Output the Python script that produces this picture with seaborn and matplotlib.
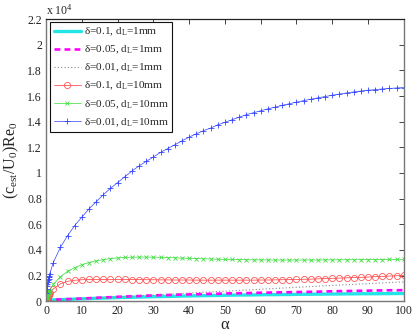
import numpy as np
import pandas as pd
import matplotlib
matplotlib.use("Agg")
import matplotlib.pyplot as plt
import seaborn as sns
from matplotlib.ticker import FuncFormatter

# ---- data (y in units of 1e4) ----
alpha = [0, 0.1, 0.2, 0.3, 0.4, 0.5, 0.6, 0.7, 0.8, 0.9, 1.0,
         2, 4, 6, 8, 10, 12, 14, 16, 18, 20, 22, 24, 26, 28, 30, 32, 34, 36, 38, 40,
         42, 44, 46, 48, 50, 52, 54, 56, 58, 60, 62, 64, 66, 68, 70, 72, 74, 76, 78, 80,
         82, 84, 86, 88, 90, 92, 94, 96, 98, 100]

cyan_1mm = [0, 0.002, 0.003, 0.004, 0.005, 0.006, 0.006, 0.007, 0.007, 0.008, 0.008,
            0.010, 0.012, 0.014, 0.016, 0.018, 0.020, 0.022, 0.024, 0.026, 0.028, 0.029, 0.030, 0.032, 0.033, 0.035, 0.036, 0.037, 0.038, 0.040, 0.041,
            0.042, 0.043, 0.044, 0.045, 0.046, 0.047, 0.048, 0.048, 0.049, 0.050, 0.051, 0.051, 0.052, 0.052, 0.053, 0.054, 0.054, 0.055, 0.055, 0.056,
            0.056, 0.057, 0.057, 0.058, 0.058, 0.058, 0.059, 0.059, 0.060, 0.060]

magenta_1mm = [0, 0.002, 0.003, 0.004, 0.005, 0.006, 0.007, 0.007, 0.008, 0.008, 0.009,
               0.011, 0.013, 0.015, 0.018, 0.020, 0.023, 0.026, 0.029, 0.031, 0.034, 0.036, 0.038, 0.040, 0.043, 0.045, 0.047, 0.048, 0.050, 0.052, 0.053,
               0.054, 0.056, 0.057, 0.058, 0.060, 0.061, 0.062, 0.063, 0.064, 0.066, 0.067, 0.068, 0.069, 0.070, 0.071, 0.072, 0.073, 0.074, 0.076, 0.077,
               0.078, 0.079, 0.080, 0.081, 0.082, 0.083, 0.084, 0.085, 0.085, 0.086]

gray_1mm = [0, 0.001, 0.001, 0.001, 0.002, 0.002, 0.002, 0.002, 0.003, 0.003, 0.003,
            0.005, 0.008, 0.011, 0.015, 0.018, 0.021, 0.024, 0.027, 0.030, 0.033, 0.036, 0.039, 0.042, 0.045, 0.048, 0.051, 0.054, 0.057, 0.060, 0.063,
            0.066, 0.069, 0.072, 0.075, 0.078, 0.081, 0.084, 0.087, 0.090, 0.093, 0.096, 0.099, 0.102, 0.105, 0.108, 0.111, 0.114, 0.117, 0.120, 0.123,
            0.126, 0.128, 0.131, 0.134, 0.137, 0.140, 0.142, 0.145, 0.148, 0.150]

red_10mm = [0, 0.010, 0.018, 0.025, 0.031, 0.036, 0.041, 0.046, 0.050, 0.055, 0.060,
            0.095, 0.135, 0.155, 0.163, 0.167, 0.169, 0.170, 0.170, 0.170, 0.169, 0.169, 0.168, 0.168, 0.167, 0.167, 0.166, 0.166, 0.165, 0.165, 0.165,
            0.164, 0.164, 0.164, 0.164, 0.164, 0.164, 0.164, 0.164, 0.164, 0.165, 0.165, 0.166, 0.167, 0.168, 0.169, 0.171, 0.172, 0.174, 0.176, 0.178,
            0.180, 0.182, 0.184, 0.186, 0.188, 0.191, 0.193, 0.196, 0.198, 0.201]

green_10mm = [0, 0.015, 0.025, 0.035, 0.042, 0.050, 0.057, 0.063, 0.070, 0.076, 0.082,
              0.130, 0.190, 0.232, 0.262, 0.284, 0.301, 0.314, 0.324, 0.332, 0.337, 0.341, 0.343, 0.344, 0.344, 0.343, 0.342, 0.340, 0.338, 0.336, 0.334,
              0.332, 0.330, 0.329, 0.327, 0.326, 0.325, 0.324, 0.323, 0.322, 0.322, 0.321, 0.321, 0.321, 0.321, 0.321, 0.321, 0.321, 0.321, 0.322, 0.322,
              0.322, 0.323, 0.323, 0.323, 0.324, 0.324, 0.324, 0.325, 0.325, 0.325]

blue_10mm = [0, 0.066, 0.094, 0.115, 0.133, 0.148, 0.163, 0.176, 0.188, 0.200, 0.210,
             0.300, 0.420, 0.510, 0.590, 0.655, 0.720, 0.775, 0.830, 0.880, 0.925, 0.970, 1.015, 1.055, 1.090, 1.125, 1.160, 1.190, 1.220, 1.250, 1.280,
             1.305, 1.330, 1.350, 1.375, 1.395, 1.415, 1.435, 1.455, 1.470, 1.485, 1.500, 1.513, 1.527, 1.540, 1.552, 1.564, 1.575, 1.586, 1.596, 1.606,
             1.615, 1.624, 1.632, 1.639, 1.645, 1.650, 1.655, 1.659, 1.663, 1.666]

labels = ["δ=0.1, d$_\\mathrm{L}$=1mm",
          "δ=0.05, d$_\\mathrm{L}$=1mm",
          "δ=0.01, d$_\\mathrm{L}$=1mm",
          "δ=0.1, d$_\\mathrm{L}$=10mm",
          "δ=0.05, d$_\\mathrm{L}$=10mm",
          "δ=0.01, d$_\\mathrm{L}$=10mm"]
xticks = [0, 10, 20, 30, 40, 50, 60, 70, 80, 90, 100]
yticks = [0, 0.2, 0.4, 0.6, 0.8, 1.0, 1.2, 1.4, 1.6, 1.8, 2.0, 2.2]

# ---- style ----
sns.set_style("white")
plt.rcParams["font.family"] = ["Liberation Serif", "DejaVu Serif"]
plt.rcParams["mathtext.fontset"] = "custom"
plt.rcParams["mathtext.rm"] = "Liberation Serif"
plt.rcParams["mathtext.it"] = "Liberation Serif:italic"

fig = plt.figure(figsize=(4.15, 3.35), dpi=100)
ax = fig.add_axes([0.111, 0.101, 0.862, 0.842])

series = [cyan_1mm, magenta_1mm, gray_1mm, red_10mm, green_10mm, blue_10mm]
styles = [
    dict(color="#22e6e6", linewidth=2.4, linestyle="-"),
    dict(color="#ff00ff", linewidth=1.9, linestyle=(0, (2.2, 1.6))),
    dict(color="#888888", linewidth=0.8, linestyle=(0, (1, 2))),
    dict(color="#ff3333", linewidth=0.5, marker="o", markersize=4.4, markerfacecolor="none",
         markeredgewidth=0.6, markeredgecolor="#ff5555"),
    dict(color="#33dd33", linewidth=0.5, marker="x", markersize=3.0, markeredgewidth=0.6,
         markeredgecolor="#44dd44"),
    dict(color="#3344ff", linewidth=0.5, marker="+", markersize=4.0, markeredgewidth=0.6,
         markeredgecolor="#3344ff"),
]
for vals, lab, st in zip(series, labels, styles):
    df = pd.DataFrame({"alpha": alpha, "val": vals})
    sns.lineplot(data=df, x="alpha", y="val", ax=ax, label=lab, **st)

ax.set_xlim(0, 100)
ax.set_ylim(0, 2.2)
ax.set_xticks(xticks)
ax.set_yticks(yticks)
ax.yaxis.set_major_formatter(FuncFormatter(lambda v, p: "%g" % round(v, 2)))
ax.tick_params(direction="in", top=True, right=True, length=3.5, width=0.6,
               labelsize=8.5, colors="#222222", pad=3)
for side in ["left", "bottom", "right"]:
    ax.spines[side].set_color("#777777")
    ax.spines[side].set_linewidth(1.0)
ax.spines["top"].set_color("#222222")
ax.spines["top"].set_linewidth(0.9)

ax.set_xlabel("α", fontsize=12, labelpad=0)
ax.set_ylabel("(c$_\\mathrm{est}$/U$_\\mathrm{0}$)Re$_\\mathrm{0}$", fontsize=11.5, labelpad=4)
ax.text(0.0, 1.005, "x 10$^\\mathrm{4}$", transform=ax.transAxes, fontsize=8.5,
        ha="left", va="bottom")

leg = ax.legend(loc="upper left", bbox_to_anchor=(0.012, 0.988), fontsize=8.1,
                frameon=True, fancybox=False, edgecolor="#111111",
                handlelength=2.4, handletextpad=0.25, labelspacing=0.5,
                borderpad=0.3, borderaxespad=0.0)
leg.get_frame().set_linewidth(0.8)
leg.get_frame().set_facecolor("white")
leg.get_frame().set_alpha(1)

fig.savefig("out.png", dpi=100)
